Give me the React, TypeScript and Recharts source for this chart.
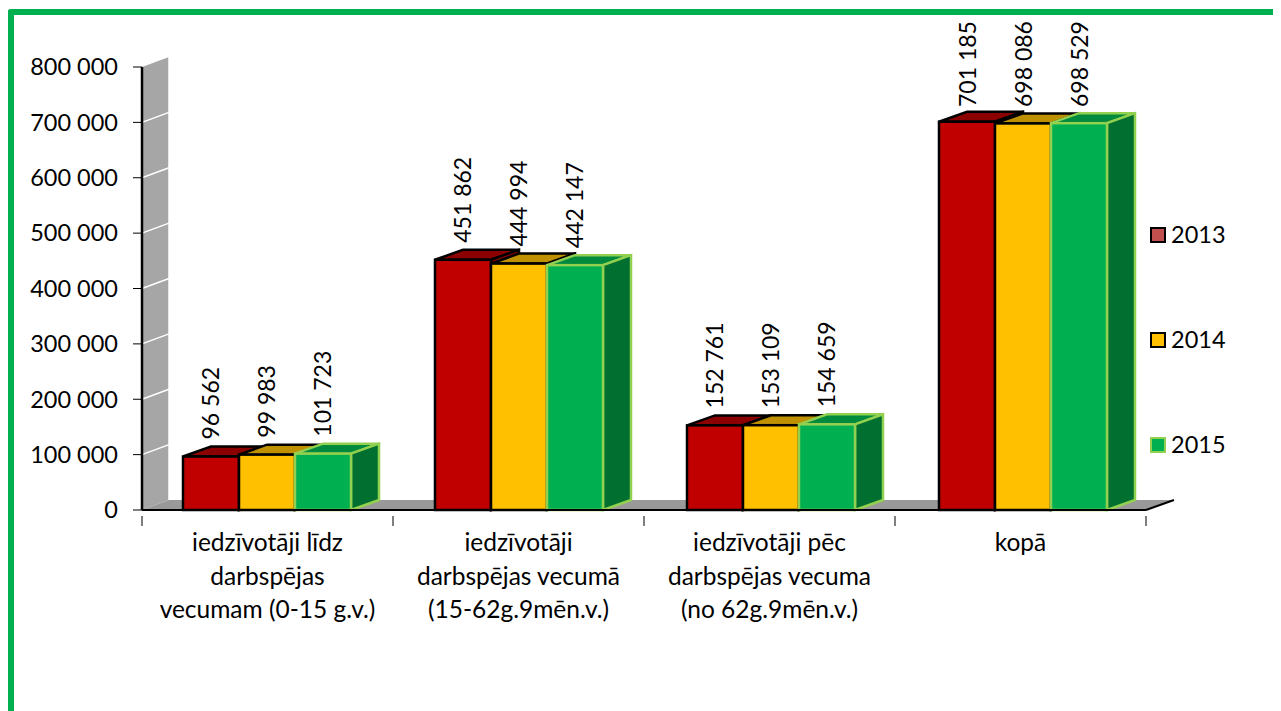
import { BarChart, Bar, XAxis, YAxis, Legend, LabelList, ReferenceArea } from "recharts"

const categories = ["līdz", "darbspējas", "pēc", "kopā"]
const categoryLines = [
  ["iedzīvotāji līdz", "darbspējas", "vecumam (0-15 g.v.)"],
  ["iedzīvotāji", "darbspējas vecumā", "(15-62g.9mēn.v.)"],
  ["iedzīvotāji pēc", "darbspējas vecuma", "(no 62g.9mēn.v.)"],
  ["kopā"],
]
const values2013 = [96562, 451862, 152761, 701185]
const values2014 = [99983, 444994, 153109, 698086]
const values2015 = [101723, 442147, 154659, 698529]
const yTicks = [0, 100000, 200000, 300000, 400000, 500000, 600000, 700000, 800000]

const legendSwatches: Record<string, { fill: string; stroke: string }> = {
  "2013": { fill: "#C0504D", stroke: "#000000" },
  "2014": { fill: "#FFC000", stroke: "#000000" },
  "2015": { fill: "#00B050", stroke: "#92D050" },
}

const rows = categories.map((name, i) => ({
  name,
  y2013: values2013[i],
  y2014: values2014[i],
  y2015: values2015[i],
}))

const FONT = "Lato"
const NUM_SIZE = 23.5
const LABEL_SIZE = 23
const CAT_SIZE = 24.5
const DEPTH_X = 28
const DEPTH_Y = 10
// columns sit a bit further right per group than the axis ticks do
const DRIFT = 1

const fmt = (v: number) => String(v).replace(/\B(?=(\d{3})+$)/g, "\u00a0")

// fake 3d column: front face plus top and side
const cube = (front: string, top: string, side: string, stroke: string) => (props: any) => {
  const { y, width, height, index } = props
  const x = props.x + index * DRIFT
  const r = x + width
  const b = y + height
  return (
    <g stroke={stroke} strokeWidth={2.5} strokeLinejoin="miter">
      <polygon points={`${x},${y} ${x + DEPTH_X},${y - DEPTH_Y} ${r + DEPTH_X},${y - DEPTH_Y} ${r},${y}`} fill={top} />
      <polygon points={`${r},${y} ${r + DEPTH_X},${y - DEPTH_Y} ${r + DEPTH_X},${b - DEPTH_Y} ${r},${b}`} fill={side} />
      <rect x={x} y={y} width={width} height={height} fill={front} />
    </g>
  )
}

// back wall and floor of the 3d box
const Box3d = (props: any) => {
  const { x, y, width, height } = props
  const b = y + height
  const r = x + width
  return (
    <g>
      <polygon points={`${x},${y} ${x + 27},${y - DEPTH_Y} ${x + 27},${b - DEPTH_Y} ${x},${b}`} fill="#A6A6A6" />
      <line x1={x + 27} y1={y - DEPTH_Y} x2={x + 27} y2={b - DEPTH_Y} stroke="#FFFFFF" strokeWidth={1.5} />
      {yTicks.slice(1, -1).map((t) => {
        const ty = b - (t / 800000) * height
        return <line key={t} x1={x} y1={ty} x2={x + 27} y2={ty - DEPTH_Y} stroke="#FFFFFF" strokeWidth={1.5} />
      })}
      <polygon points={`${x},${b} ${x + 27},${b - DEPTH_Y} ${r + 28},${b - DEPTH_Y} ${r},${b}`} fill="#999999" />
      <line x1={r} y1={b} x2={r + 28} y2={b - DEPTH_Y} stroke="#000000" strokeWidth={2} />
    </g>
  )
}

const XTick = (props: any) => {
  const { x, y, index, width } = props
  const band = (width ?? 1004) / categories.length
  const left = x - band / 2
  const lines = categoryLines[index] ?? []
  return (
    <g>
      <line x1={left} y1={y - 2} x2={left} y2={y + 8} stroke="#000000" strokeWidth={1} />
      {index === categories.length - 1 && (
        <line x1={left + band} y1={y - 2} x2={left + band} y2={y + 8} stroke="#000000" strokeWidth={1} />
      )}
      <text x={x} y={y} textAnchor="middle" fontFamily={FONT} fontSize={CAT_SIZE} fill="#000000">
        {lines.map((l: string, i: number) => (
          <tspan key={i} x={x} y={y + 33 + i * 33.5}>
            {l}
          </tspan>
        ))}
      </text>
    </g>
  )
}

const ValueLabel = (props: any) => {
  const box = props.viewBox ?? props
  const cx = box.x + box.width / 2 + 8.5 + (props.index ?? 0) * DRIFT
  // tall columns push their label down so it stays inside the chart
  const cy = Math.max(box.y - 17, 99)
  return (
    <text
      x={cx}
      y={cy}
      transform={`rotate(-90 ${cx} ${cy})`}
      fontFamily={FONT}
      fontSize={LABEL_SIZE}
      fill="#000000"
    >
      {fmt(Number(props.value))}
    </text>
  )
}

const LegendBox = (props: any) => (
  <div style={{ fontFamily: FONT, fontSize: NUM_SIZE, color: "#000" }}>
    {(props.payload ?? []).map((p: any) => {
      const s = legendSwatches[p.value]
      return (
        <div key={p.value} style={{ height: 105, display: "flex", alignItems: "flex-start" }}>
          <span
            style={{
              width: 12,
              height: 12,
              marginTop: 6,
              marginRight: 5,
              background: s.fill,
              border: `2px solid ${s.stroke}`,
              display: "inline-block",
            }}
          />
          <span style={{ lineHeight: "26px" }}>{p.value}</span>
        </div>
      )
    })}
  </div>
)

export default function App() {
  return (
    <div style={{ position: "relative", width: 1273, height: 703, overflow: "hidden" }}>
      <div
        style={{
          position: "absolute",
          left: 0,
          top: 1,
          width: 1280,
          height: 720,
          boxSizing: "border-box",
          borderLeft: "6px solid #00B050",
          borderTop: "6px solid #00B050",
          borderTopLeftRadius: 3,
        }}
      />
      <BarChart
        width={1273}
        height={703}
        data={rows}
        margin={{ top: 59, right: 135, bottom: 0, left: 0 }}
        barCategoryGap={41}
        barGap={0}
      >
        <ReferenceArea y1={0} y2={800000} shape={<Box3d />} />
        <XAxis
          dataKey="name"
          height={201}
          interval={0}
          tickLine={false}
          axisLine={{ stroke: "#000000", strokeWidth: 2 }}
          tick={<XTick />}
        />
        <YAxis
          width={134}
          domain={[0, 800000]}
          ticks={yTicks}
          interval={0}
          tickFormatter={fmt}
          tickSize={9}
          tickMargin={15}
          axisLine={{ stroke: "#000000", strokeWidth: 2.5 }}
          tickLine={{ stroke: "#000000", strokeWidth: 1 }}
          tick={{ fontFamily: FONT, fontSize: NUM_SIZE, fill: "#000000" }}
        />
        <Legend
          layout="vertical"
          align="center"
          verticalAlign="middle"
          content={<LegendBox />}
          wrapperStyle={{ left: 1142, top: 213, width: 110, right: "auto", bottom: "auto" }}
        />
        <Bar
          dataKey="y2013"
          name="2013"
          fill="#C00000"
          isAnimationActive={false}
          shape={cube("#C00000", "#8B0000", "#8B0000", "#000000")}
        >
          <LabelList dataKey="y2013" content={<ValueLabel />} />
        </Bar>
        <Bar
          dataKey="y2014"
          name="2014"
          fill="#FFC000"
          isAnimationActive={false}
          shape={cube("#FFC000", "#BF9000", "#BF9000", "#000000")}
        >
          <LabelList dataKey="y2014" content={<ValueLabel />} />
        </Bar>
        <Bar
          dataKey="y2015"
          name="2015"
          fill="#00B050"
          isAnimationActive={false}
          shape={cube("#00B050", "#008A3E", "#006F30", "#92D050")}
        >
          <LabelList dataKey="y2015" content={<ValueLabel />} />
        </Bar>
      </BarChart>
    </div>
  )
}
